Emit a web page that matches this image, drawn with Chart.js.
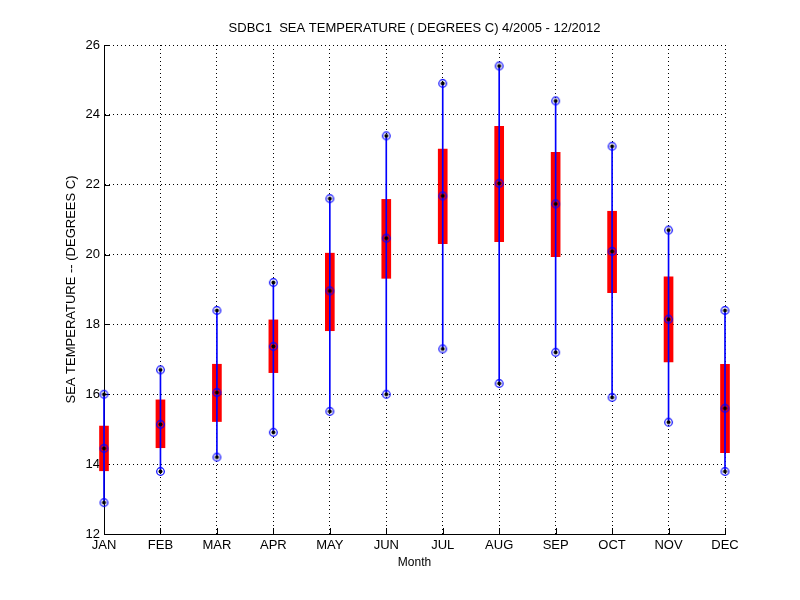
<!DOCTYPE html>
<html>
<head>
<meta charset="utf-8">
<script src="https://cdn.jsdelivr.net/npm/chart.js@4/dist/chart.umd.min.js"></script>
<style>
  body { margin: 0; background: #fff; }
  #wrap { width: 800px; height: 600px; }
</style>
</head>
<body>
<div id="wrap"><canvas id="boxChart" width="800" height="600"></canvas></div>
<script>
const months = ["JAN", "FEB", "MAR", "APR", "MAY", "JUN", "JUL", "AUG", "SEP", "OCT", "NOV", "DEC"];
const maxVals = [16.0, 16.7, 18.4, 19.2, 21.6, 23.4, 24.9, 25.4, 24.4, 23.1, 20.7, 18.4];
const q3Vals = [15.09, 15.84, 16.86, 18.13, 20.04, 21.58, 23.02, 23.67, 22.93, 21.24, 19.36, 16.86];
const medVals = [14.45, 15.14, 16.05, 17.37, 18.96, 20.47, 21.68, 22.04, 21.45, 20.09, 18.15, 15.60];
const q1Vals = [13.81, 14.47, 15.22, 16.62, 17.82, 19.32, 20.31, 20.37, 19.94, 18.91, 16.93, 14.33];
const minVals = [12.9, 13.79, 14.2, 14.91, 15.51, 16.0, 17.3, 16.31, 17.2, 15.91, 15.2, 13.79];
const yTicks = [12, 14, 16, 18, 20, 22, 24, 26];
const chartTitle = "SDBC1  SEA TEMPERATURE ( DEGREES C) 4/2005 - 12/2012";

const FONT = "'Liberation Sans', Arial, sans-serif";

// circle-with-dot marker, like matlab's 'o' + '.'
const marker = document.createElement("canvas");
marker.width = 11;
marker.height = 11;
const mctx = marker.getContext("2d");
mctx.strokeStyle = "#0000ff";
mctx.lineWidth = 1.2;
mctx.beginPath();
mctx.arc(5.5, 5.5, 3.8, 0, Math.PI * 2);
mctx.stroke();
mctx.fillStyle = "#000";
mctx.beginPath();
mctx.arc(5.5, 5.5, 2, 0, Math.PI * 2);
mctx.fill();

const innerTicks = {
    id: "innerTicks",
    beforeDatasetsDraw(chart) {
        const { ctx, chartArea, scales } = chart;
        ctx.save();
        ctx.strokeStyle = "#000";
        ctx.lineWidth = 1;
        scales.y.ticks.forEach(t => {
            const y = Math.round(scales.y.getPixelForValue(t.value)) + 0.5;
            ctx.beginPath();
            ctx.moveTo(chartArea.left, y);
            ctx.lineTo(chartArea.left + 6, y);
            ctx.stroke();
        });
        scales.x.ticks.forEach((t, i) => {
            const x = Math.round(scales.x.getPixelForTick(i)) + 0.5;
            ctx.beginPath();
            ctx.moveTo(x, chartArea.bottom);
            ctx.lineTo(x, chartArea.bottom - 6);
            ctx.stroke();
        });
        ctx.restore();
    },
    // title centred over the plot box, not the canvas
    afterDraw(chart) {
        const { ctx, chartArea } = chart;
        ctx.save();
        ctx.fillStyle = "#000";
        ctx.font = "13px " + FONT;
        ctx.textAlign = "center";
        ctx.textBaseline = "middle";
        ctx.fillText(chartTitle, (chartArea.left + chartArea.right) / 2, 28);
        ctx.restore();
    }
};

function markerSet(vals) {
    return {
        type: "line",
        data: vals,
        showLine: false,
        pointStyle: marker,
        pointRadius: 4,
        order: 0,
        clip: false
    };
}

new Chart(document.getElementById("boxChart").getContext("2d"), {
    type: "bar",
    data: {
        labels: months,
        datasets: [
            {
                data: months.map((m, i) => [q1Vals[i], q3Vals[i]]),
                backgroundColor: "#ff0000",
                borderWidth: 0,
                barThickness: 9,
                grouped: false,
                order: 3,
                clip: false
            },
            {
                data: months.map((m, i) => [minVals[i], maxVals[i]]),
                backgroundColor: "#0000ff",
                borderWidth: 0,
                barThickness: 1,
                grouped: false,
                order: 2,
                clip: false
            },
            markerSet(maxVals),
            markerSet(medVals),
            markerSet(minVals)
        ]
    },
    options: {
        responsive: false,
        animation: false,
        layout: { padding: { left: 0, right: 75, top: 45, bottom: 0 } },
        plugins: {
            legend: { display: false },
            tooltip: { enabled: false },
            title: { display: false }
        },
        scales: {
            x: {
                offset: false,
                grid: { offset: false, color: "#000", lineWidth: 1, drawTicks: false },
                border: { display: true, color: "#000", width: 1, dash: [1, 3] },
                ticks: {
                    color: "#000",
                    padding: 4,
                    maxRotation: 0,
                    autoSkip: false,
                    font: { family: FONT, size: 13 }
                },
                title: {
                    display: true,
                    text: "Month",
                    color: "#000",
                    font: { family: FONT, size: 12 },
                    padding: { top: 0, bottom: 30 }
                },
                afterFit(scale) { scale.height = 66; }
            },
            y: {
                min: 12,
                max: 26,
                afterBuildTicks(scale) { scale.ticks = yTicks.map(v => ({ value: v })); },
                grid: { color: "#000", lineWidth: 1, drawTicks: false },
                border: { display: true, color: "#000", width: 1, dash: [1, 3] },
                ticks: {
                    color: "#000",
                    padding: 4,
                    font: { family: FONT, size: 13 }
                },
                title: {
                    display: true,
                    text: "SEA TEMPERATURE -- (DEGREES C)",
                    color: "#000",
                    font: { family: FONT, size: 13 },
                    padding: { top: 64, bottom: 0 }
                },
                afterFit(scale) { scale.width = 104; }
            }
        }
    },
    plugins: [innerTicks]
});
</script>
</body>
</html>
